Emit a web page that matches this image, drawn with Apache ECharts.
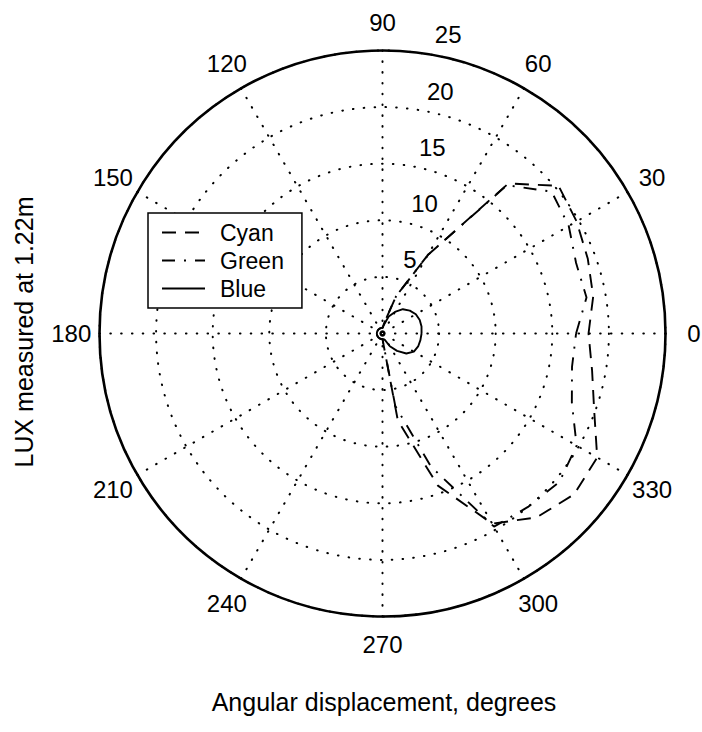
<!DOCTYPE html>
<html><head><meta charset="utf-8">
<script src="https://cdn.jsdelivr.net/npm/echarts@6/dist/echarts.min.js"></script>
<style>html,body{margin:0;padding:0;background:#fff}#c{width:702px;height:732px}</style>
</head><body><div id="c"></div>
<script>
// angles in degrees (0 = right, counter-clockwise)
const angles = [0,10,20,30,40,50,60,70,80,90,100,110,120,130,140,150,160,170,180,190,200,210,220,230,240,250,260,270,280,290,300,310,320,330,340,350];
// LUX values
const cyan  = [18.2,18.9,19.3,19.8,20.3,17.3,8.0,3.5,1.0,0.5,0.5,0.5,0.5,0.5,0.5,0.5,0.5,0.5,0.5,0.5,0.5,0.5,0.5,0.5,0.5,0.5,0.5,0.5,7.8,14.3,19.4,21.2,22.1,21.9,19.9,18.8];
const green = [17.1,18.3,18.2,19.0,19.5,17.1,8.0,3.5,1.0,0.5,0.5,0.5,0.5,0.5,0.5,0.5,0.5,0.5,0.5,0.5,0.5,0.5,0.5,0.5,0.5,0.5,0.5,0.5,6.5,12.5,19.7,20.0,20.4,19.8,17.8,17.0];
const blue  = [3.45,3.5,3.5,3.4,3.15,2.8,2.2,1.6,0.8,0.5,0.5,0.5,0.5,0.5,0.5,0.5,0.5,0.5,0.5,0.5,0.5,0.5,0.5,0.5,0.5,0.5,0.5,0.5,0.5,0.6,1.3,2.0,2.75,3.2,3.35,3.4];
const angleTicks = [0,30,60,90,120,150,180,210,240,270,300,330];
const radiusTicks = [5,10,15,20,25];
const seriesNames = ['Cyan','Green','Blue'];
const rMax = 25;
const labelScale = 1.1;            // angle labels sit at 1.1 * rMax
const radiusLabelAngle = 82;

function closed(rs){ const d = angles.map((a,i)=>[rs[i], a]); d.push([rs[0], 360]); return d; }

const FONT = "'Liberation Sans', Arial, Helvetica, sans-serif";
const CX = 382.5, CY = 333.5, R = 283;
const dotted = {color:'#000', width:2, type:[0.6, 10.2], cap:'round'};
const chart = echarts.init(document.getElementById('c'), null, {renderer:'svg'});

const option = {
  animation:false,
  backgroundColor:'#fff',
  polar:[{center:[CX,CY], radius:R}, {center:[CX,CY], radius:R*labelScale}],
  angleAxis:[
    {polarIndex:0, type:'value', min:0, max:360, interval:30, startAngle:0, clockwise:false,
      axisLine:{show:true, lineStyle:{color:'#000', width:2.6}},
      axisTick:{show:false}, axisLabel:{show:false},
      splitLine:{show:true, lineStyle:dotted}},
    {polarIndex:1, type:'value', min:0, max:360, startAngle:0, clockwise:false,
      axisLine:{show:false}, axisTick:{show:false}, axisLabel:{show:false}, splitLine:{show:false}}
  ],
  radiusAxis:[
    {polarIndex:0, type:'value', min:0, max:rMax, interval:5,
      axisLine:{show:false}, axisTick:{show:false}, axisLabel:{show:false},
      splitLine:{show:true, lineStyle:dotted}},
    {polarIndex:1, type:'value', min:0, max:rMax*labelScale,
      axisLine:{show:false}, axisTick:{show:false}, axisLabel:{show:false}, splitLine:{show:false}}
  ],
  legend:{data:seriesNames, orient:'vertical', left:148, top:213,
    itemWidth:43, itemHeight:14, itemGap:5, padding:[8,18,8,13],
    backgroundColor:'#fff', borderColor:'#000', borderWidth:1.5, borderRadius:0,
    itemStyle:{opacity:0},
    textStyle:{fontFamily:FONT, fontSize:23, color:'#000', lineHeight:22, padding:[0,0,0,10]}},
  graphic:[
    {type:'text', x:384, y:702, style:{text:'Angular displacement, degrees', fontSize:25, fontFamily:FONT, fill:'#000', align:'center', verticalAlign:'middle'}},
    {type:'text', x:24, y:332, rotation:Math.PI/2, style:{text:'LUX measured at 1.22m', fontSize:25, fontFamily:FONT, fill:'#000', align:'center', verticalAlign:'middle'}}
  ],
  series:[
    {name:'Cyan', type:'line', polarIndex:0, coordinateSystem:'polar', data:closed(cyan), symbol:'none',
      lineStyle:{color:'#000', width:1.9, type:[14,9]}, itemStyle:{color:'#000'}, z:3},
    {name:'Green', type:'line', polarIndex:0, coordinateSystem:'polar', data:closed(green), symbol:'none',
      lineStyle:{color:'#000', width:1.9, type:[13,9,2,9]}, itemStyle:{color:'#000'}, z:3},
    {name:'Blue', type:'line', polarIndex:0, coordinateSystem:'polar', data:closed(blue), symbol:'none',
      lineStyle:{color:'#000', width:1.9, type:'solid'}, itemStyle:{color:'#000'}, z:3},
    {type:'scatter', coordinateSystem:'polar', polarIndex:1, silent:true, symbolSize:1,
      itemStyle:{color:'rgba(0,0,0,0)', opacity:1},
      data:angleTicks.map(a=>({value:[rMax*labelScale, a], name:String(a)})),
      label:{show:true, position:'inside', formatter:p=>p.name, color:'#000', opacity:1, fontSize:24, fontFamily:FONT}, z:5},
    {type:'scatter', coordinateSystem:'polar', polarIndex:1, silent:true, symbolSize:1,
      itemStyle:{color:'rgba(0,0,0,0)', opacity:1},
      data:radiusTicks.map(v=>({value:[v+0.25, radiusLabelAngle], name:String(v)})),
      label:{show:true, position:[13,-3], align:'left', verticalAlign:'bottom', formatter:p=>p.name, color:'#000', opacity:1, fontSize:24, fontFamily:FONT}, z:5}
  ]
};
chart.setOption(option);
</script></body></html>
